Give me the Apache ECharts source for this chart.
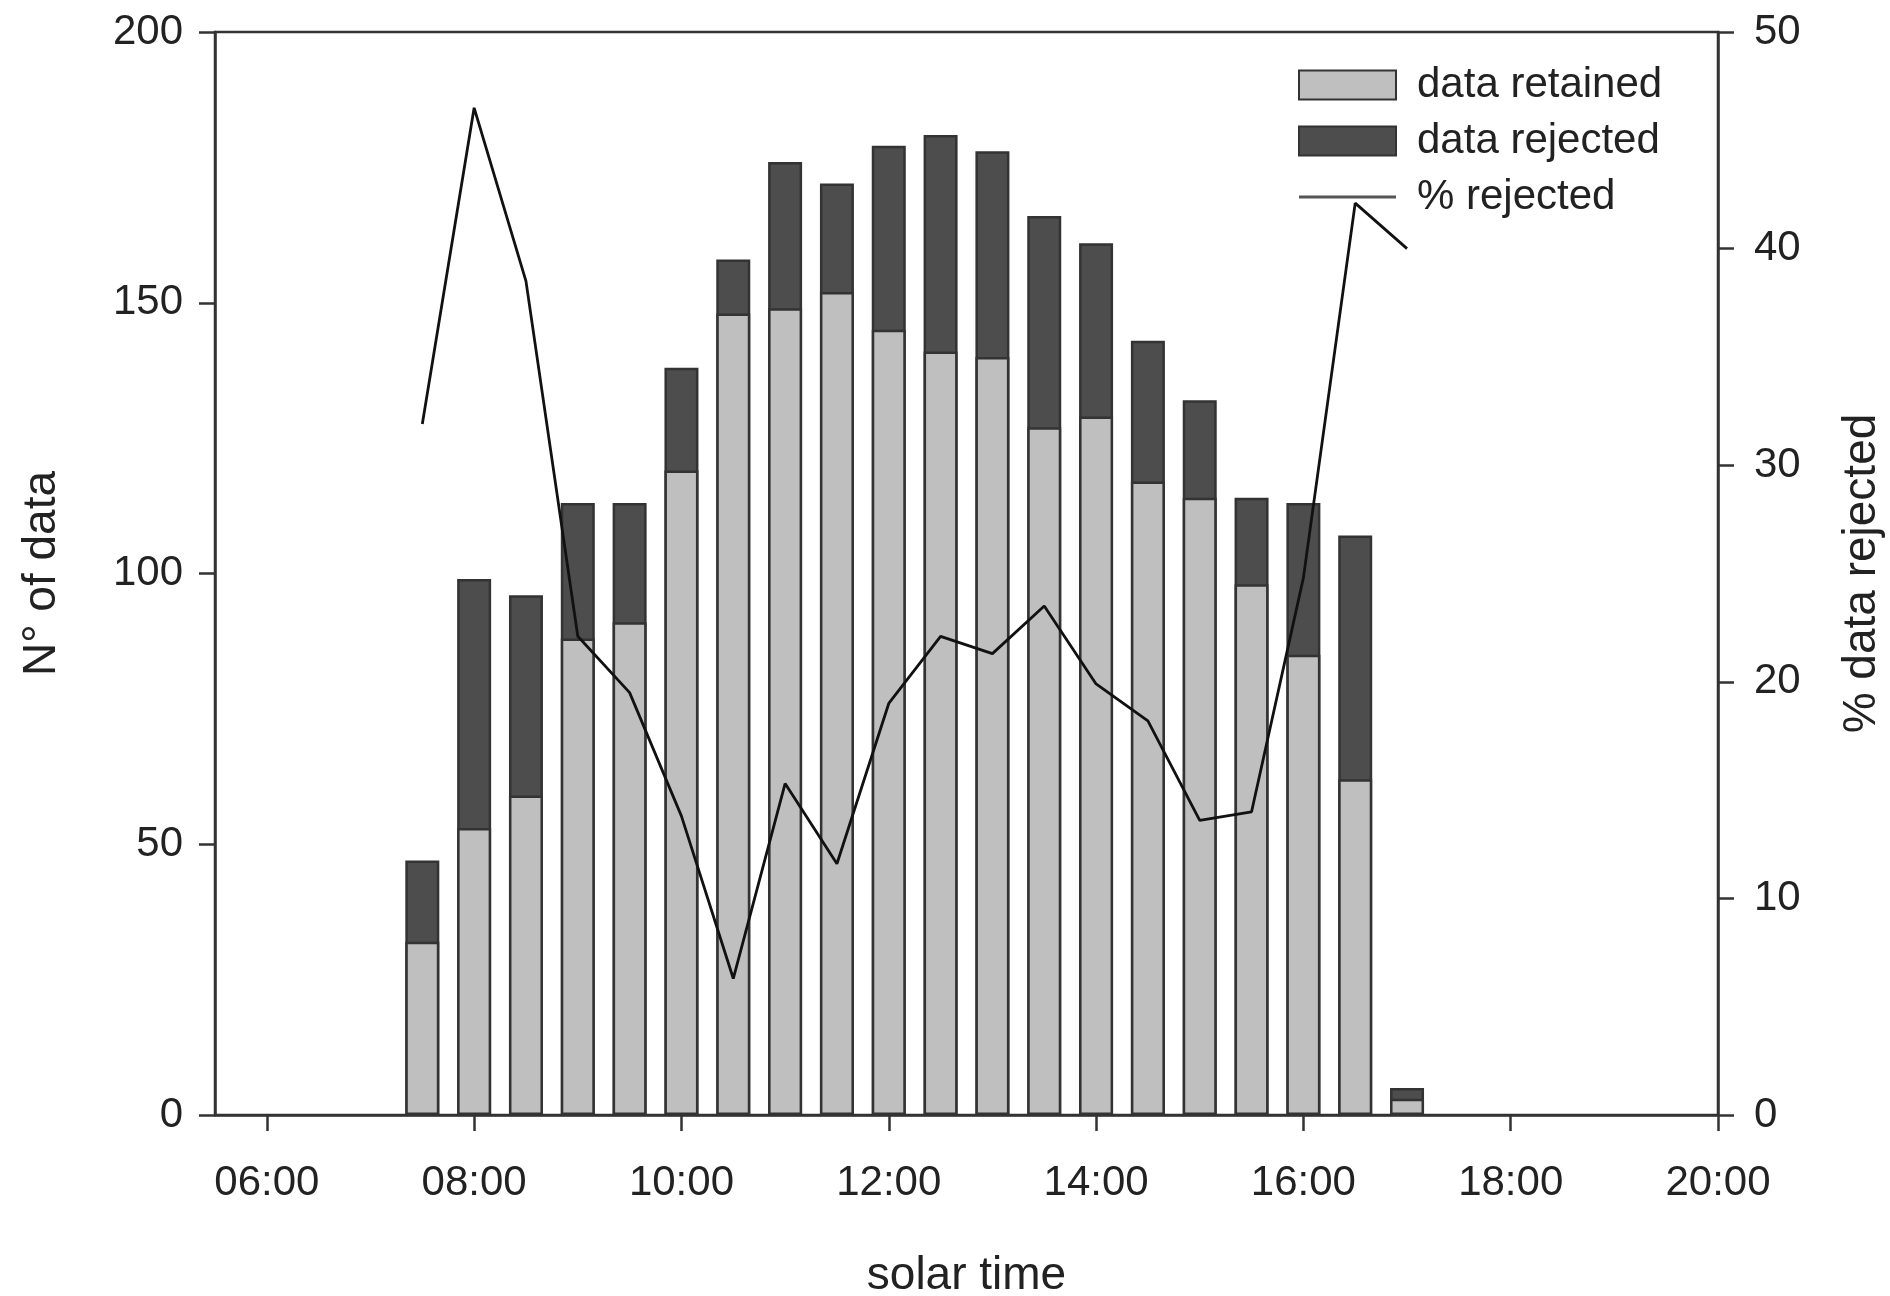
<!DOCTYPE html>
<html>
<head>
<meta charset="utf-8">
<script src="https://cdn.jsdelivr.net/npm/echarts@6/dist/echarts.min.js"></script>
<style>
html,body{margin:0;padding:0;background:#fff;}
#chart{width:1890px;height:1296px;}
</style>
</head>
<body>
<div id="chart"></div>
<script>
// solar time of each bar, in hours
var hours = [7.5, 8, 8.5, 9, 9.5, 10, 10.5, 11, 11.5, 12, 12.5, 13, 13.5, 14, 14.5, 15, 15.5, 16, 16.5, 17];
var retained = [32, 53, 59, 88, 91, 119, 148, 149, 152, 145, 141, 140, 127, 129, 117, 114, 98, 85, 62, 3];
var rejected = [15, 46, 37, 25, 22, 19, 10, 27, 20, 34, 40, 38, 39, 32, 26, 18, 16, 28, 45, 2];
var pctRejected = [31.9, 46.5, 38.5, 22.1, 19.5, 13.8, 6.3, 15.3, 11.6, 19.0, 22.1, 21.3, 23.5, 19.9, 18.2, 13.6, 14.0, 24.8, 42.1, 40.0];
var xTickHours = [6, 8, 10, 12, 14, 16, 18, 20];
var xTickLabels = ['06:00', '08:00', '10:00', '12:00', '14:00', '16:00', '18:00', '20:00'];

var FONT = '"Liberation Sans", Arial, sans-serif';
var AX = '#333';
function pair(a) { return hours.map(function (h, i) { return [h, a[i]]; }); }
// rejected bar segment sits on top of the retained one: drawn as the full column behind it
var totals = retained.map(function (v, i) { return v + rejected[i]; });

var chart = echarts.init(document.getElementById('chart'), null, {renderer: 'canvas'});
chart.setOption({
  animation: false,
  backgroundColor: '#fff',
  textStyle: {fontFamily: FONT, color: '#222'},
  grid: {left: 215, top: 32, width: 1503, height: 1083, outerBoundsMode: 'none', containLabel: false,
    show: true, borderColor: AX, borderWidth: 2.5, backgroundColor: 'transparent'},
  legend: {
    orient: 'vertical', left: 1298, top: 64, padding: 0, itemGap: 14,
    itemWidth: 97, itemHeight: 29,
    textStyle: {fontSize: 42, fontFamily: FONT, color: '#222', padding: [0, 0, 0, 16]},
    data: [
      {name: 'data retained', icon: 'rect'},
      {name: 'data rejected', icon: 'rect'},
      {name: '% rejected', icon: 'path://M0,0 L100,0 L100,3 L0,3 Z', itemStyle: {color: '#555'}}
    ]
  },
  xAxis: {
    type: 'value', min: 5.5, max: 20,
    name: 'solar time', nameLocation: 'middle', nameGap: 138,
    nameTextStyle: {fontSize: 46, fontFamily: FONT, color: '#222'},
    axisLine: {show: true, lineStyle: {color: AX, width: 2.5}},
    axisTick: {show: true, inside: false, length: 16, customValues: xTickHours, lineStyle: {color: AX, width: 2.5}},
    axisLabel: {fontSize: 42, margin: 47, color: '#222', customValues: xTickHours,
      formatter: function (v) { var i = xTickHours.indexOf(v); return i >= 0 ? xTickLabels[i] : ''; }},
    splitLine: {show: false}
  },
  yAxis: [{
    type: 'value', min: 0, max: 200, interval: 50, position: 'left',
    name: 'N° of data', nameLocation: 'middle', nameGap: 150, nameRotate: 90,
    nameTextStyle: {fontSize: 46, fontFamily: FONT, color: '#222'},
    axisLine: {show: true, lineStyle: {color: AX, width: 2.5}},
    axisTick: {show: true, length: 16, lineStyle: {color: AX, width: 2.5}},
    axisLabel: {fontSize: 42, margin: 32, color: '#222'},
    splitLine: {show: false}
  }, {
    type: 'value', min: 0, max: 50, interval: 10, position: 'right',
    name: '% data rejected', nameLocation: 'middle', nameGap: 121, nameRotate: 90,
    nameTextStyle: {fontSize: 46, fontFamily: FONT, color: '#222'},
    axisLine: {show: true, lineStyle: {color: AX, width: 2.5}},
    axisTick: {show: true, length: 16, lineStyle: {color: AX, width: 2.5}},
    axisLabel: {fontSize: 42, margin: 36, color: '#222'},
    splitLine: {show: false}
  }],
  series: [{
    name: 'data rejected', type: 'bar', barWidth: 34, barGap: '-100%',
    itemStyle: {color: '#4d4d4d', borderColor: '#333', borderWidth: 2.5},
    data: pair(totals), z: 2
  }, {
    name: 'data retained', type: 'bar', barWidth: 34, barGap: '-100%',
    itemStyle: {color: '#bfbfbf', borderColor: '#333', borderWidth: 2.5},
    data: pair(retained), z: 3
  }, {
    name: '% rejected', type: 'line', yAxisIndex: 1, symbol: 'none', showSymbol: false,
    lineStyle: {color: '#111', width: 2.8},
    itemStyle: {color: '#111'},
    data: pair(pctRejected), z: 5
  }]
});
</script>
</body>
</html>
